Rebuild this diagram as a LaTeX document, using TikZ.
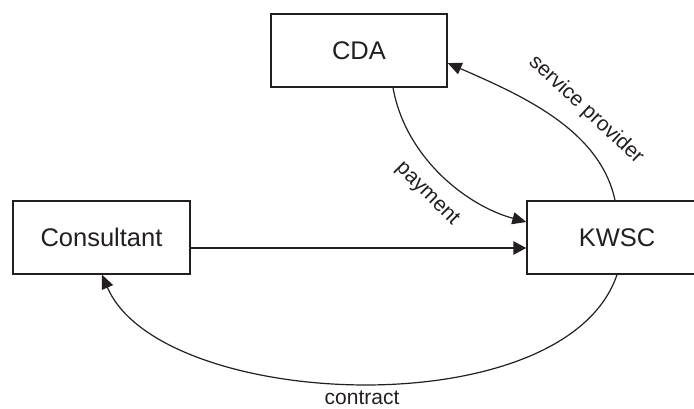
\documentclass[tikz,border=0pt]{standalone}
\usepackage{fontspec}
\setmainfont{Liberation Sans}
\usetikzlibrary{arrows.meta}
\definecolor{ink}{HTML}{231F20}
\begin{document}
\begin{tikzpicture}[x=1pt,y=-1pt,
  box/.style={draw=ink,line width=1.3pt,minimum height=73pt,inner sep=0pt,
    font=\fontsize{25.5}{30}\selectfont,text=ink},
  lbl/.style={font=\fontsize{21}{25}\selectfont,text=ink,inner sep=0pt},
  conn/.style={draw=ink,line width=1.2pt,-{Triangle[length=14pt,width=12pt]}},
  thick conn/.style={draw=ink,line width=2.6pt,-{Triangle[length=13pt,width=13pt]}}]
\fill[white] (0,0) rectangle (694,409);
\useasboundingbox (0,0) rectangle (694,409);
\clip (0,0) rectangle (694,409);
\node[box,minimum width=176pt] (CDA) at (359,50.5) {CDA};
\node[box,minimum width=177pt] (Consultant) at (101.5,237.5) {Consultant};
\node[box,minimum width=180pt] (KWSC) at (617,237.5) {KWSC};
\draw[conn] ([xshift=34pt]CDA.south) .. controls +(12,68) and +(-62,-17) .. ([yshift=15.5pt]KWSC.west);
\draw[conn] ([xshift=-2pt]KWSC.north) .. controls +(-15,-71) and +(73,32) .. ([yshift=-12.5pt]CDA.east);
\draw[thick conn] ([yshift=-10.5pt]Consultant.east) -- ([yshift=-10.5pt]KWSC.west);
\draw[conn] (KWSC.south) .. controls +(-52,154) and +(58,136) .. ([xshift=0.5pt]Consultant.south);
\node[lbl,rotate=-45] (pay) at (427,194) {payment};
\node[lbl,rotate=-43] (serv) at (586,110) {service provider};
\node[lbl] (contr) at (362,398) {contract};
\end{tikzpicture}
\end{document}
